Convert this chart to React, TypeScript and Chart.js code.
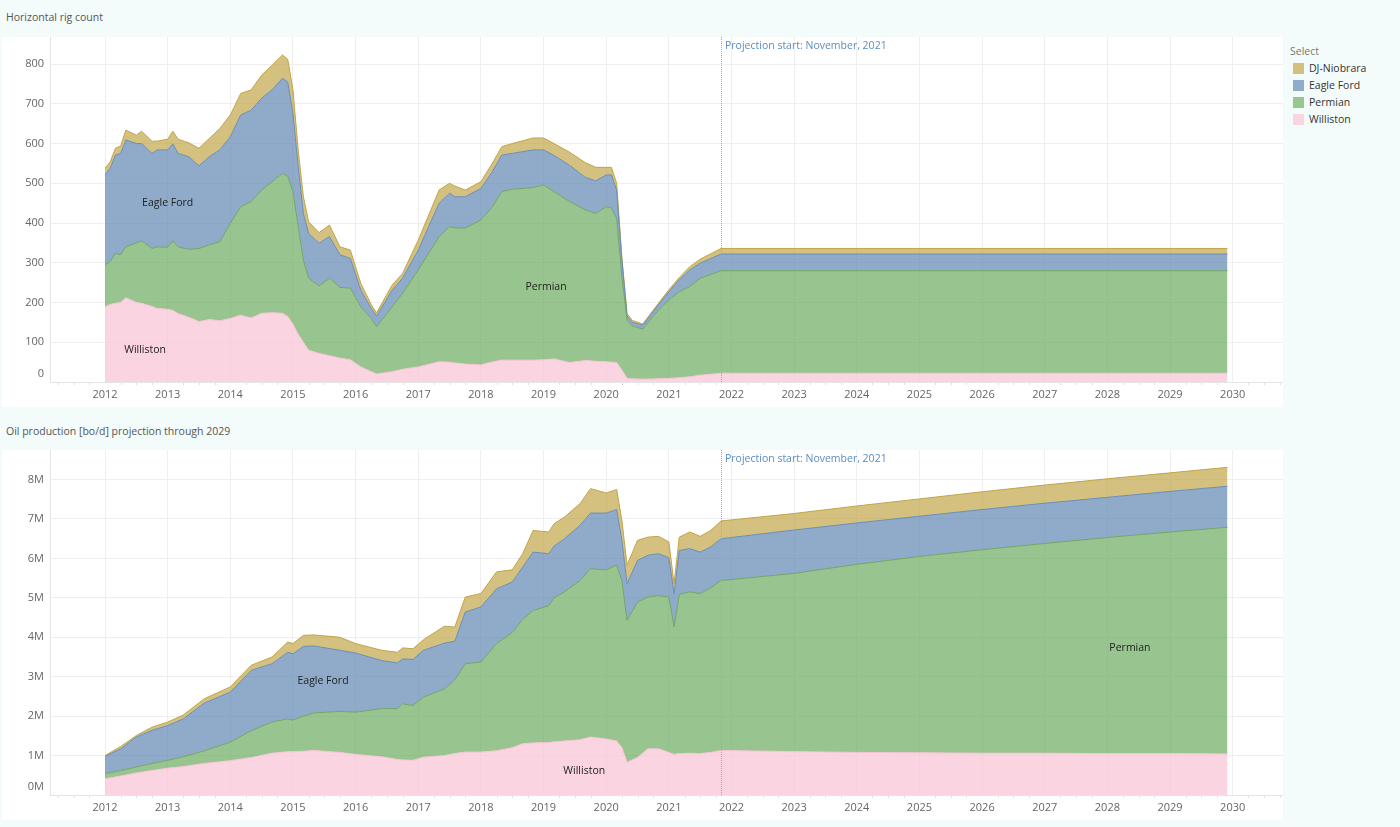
import React, { useEffect, useRef } from "react";
import { Chart, registerables } from "chart.js";

Chart.register(...registerables);

const FONT = "'Open Sans', 'DejaVu Sans', sans-serif";

// ---------- Horizontal rig count ----------
const rigDates = [
  "2012-01", "2012-02", "2012-03", "2012-04", "2012-05", "2012-07", "2012-08", "2012-10", "2012-11",
  "2013-01", "2013-02", "2013-03", "2013-05", "2013-07", "2013-09", "2013-11",
  "2014-01", "2014-03", "2014-05", "2014-07", "2014-09", "2014-11", "2014-12",
  "2015-01", "2015-02", "2015-03", "2015-04", "2015-06", "2015-08", "2015-10", "2015-12",
  "2016-02", "2016-04", "2016-05", "2016-08", "2016-10",
  "2017-01", "2017-05", "2017-07", "2017-08", "2017-10",
  "2018-01", "2018-03", "2018-05", "2018-07", "2018-11",
  "2019-01", "2019-03", "2019-06", "2019-09", "2019-11",
  "2020-01", "2020-02", "2020-03", "2020-04", "2020-05", "2020-06", "2020-08", "2020-11",
  "2021-01", "2021-03", "2021-05", "2021-07", "2021-11",
  "2029-12",
];
const rigWilliston = [
  189, 195, 198, 200, 212, 200, 198, 190, 185,
  183, 180, 172, 163, 152, 157, 154,
  160, 168, 161, 173, 174, 173, 165,
  145, 120, 100, 80, 72, 66, 60, 56,
  38, 26, 20, 26, 32,
  38, 51, 50, 48, 45,
  43, 50, 55, 55, 55,
  56, 58, 49, 54, 52,
  51, 50, 49, 30, 9, 8, 7, 8,
  9, 11, 13, 17, 22,
  22,
];
const rigPermian = [
  105, 108, 126, 120, 128, 150, 157, 146, 155,
  156, 175, 168, 171, 184, 188, 199,
  239, 273, 293, 310, 330, 352, 353,
  334, 271, 207, 181, 170, 195, 178, 180,
  151, 134, 119, 163, 191,
  244, 315, 341, 340, 342,
  365, 387, 424, 430, 434,
  440, 421, 405, 379, 372,
  390, 388, 363, 235, 146, 133, 126, 173,
  197, 216, 227, 244, 258,
  258,
];
const rigEagleFord = [
  227, 235, 247, 255, 269, 250, 245, 239, 244,
  245, 244, 235, 233, 208, 222, 231,
  218, 231, 230, 231, 231, 239, 237,
  197, 151, 117, 113, 107, 105, 82, 75,
  42, 25, 27, 42, 38,
  50, 84, 84, 78, 79,
  79, 88, 92, 90, 95,
  88, 91, 91, 82, 82,
  80, 83, 71, 42, 11, 9, 10, 13,
  21, 30, 42, 38, 42,
  42,
];
const rigDJNiobrara = [
  17, 16, 17, 19, 25, 21, 31, 31, 22,
  27, 32, 36, 35, 44, 46, 54,
  55, 54, 51, 58, 62, 59, 57,
  59, 42, 42, 29, 27, 29, 20, 21,
  17, 10, 8, 13, 12,
  25, 33, 25, 27, 17,
  17, 21, 21, 25, 30,
  30, 30, 33, 37, 34,
  19, 19, 17, 8, 6, 5, 3, 4,
  5, 6, 8, 10, 14,
  14,
];

// ---------- Oil production [million bo/d] ----------
const prodDates = [
  "2012-01", "2012-04", "2012-07", "2012-10",
  "2013-01", "2013-04", "2013-08",
  "2014-01", "2014-05", "2014-09", "2014-12",
  "2015-01", "2015-03", "2015-05", "2015-10",
  "2016-01", "2016-06", "2016-09", "2016-10", "2016-12",
  "2017-02", "2017-06", "2017-08", "2017-10",
  "2018-01", "2018-04", "2018-07", "2018-09", "2018-11",
  "2019-02", "2019-03", "2019-05", "2019-08", "2019-10",
  "2020-01", "2020-03", "2020-04", "2020-05", "2020-07", "2020-09", "2020-11",
  "2021-01", "2021-02", "2021-03", "2021-05", "2021-07", "2021-09", "2021-11",
  "2023-01", "2024-01", "2025-01", "2026-01", "2027-01", "2028-01", "2029-01", "2029-12",
];
const prodWilliston = [
  0.41, 0.48, 0.56, 0.62,
  0.68, 0.72, 0.8,
  0.87, 0.95, 1.06, 1.1,
  1.1, 1.11, 1.13, 1.08,
  1.03, 0.97, 0.9, 0.89, 0.88,
  0.96, 1.0, 1.05, 1.09,
  1.09, 1.12, 1.2, 1.3, 1.32,
  1.33, 1.35, 1.37, 1.4, 1.47,
  1.42, 1.37, 1.2, 0.83, 0.95, 1.17, 1.17,
  1.08, 1.03, 1.05, 1.06, 1.05, 1.08, 1.13,
  1.1, 1.08, 1.07, 1.06, 1.06, 1.05, 1.05, 1.04,
];
const prodPermian = [
  0.13, 0.14, 0.15, 0.18,
  0.2, 0.25, 0.32,
  0.47, 0.68, 0.79, 0.83,
  0.8, 0.89, 0.95, 1.04,
  1.07, 1.22, 1.29, 1.42, 1.39,
  1.52, 1.69, 1.87, 2.24,
  2.28, 2.72, 2.92, 3.15, 3.36,
  3.47, 3.65, 3.78, 4.04, 4.27,
  4.29, 4.46, 4.24, 3.6, 3.94, 3.85, 3.89,
  3.94, 3.23, 4.04, 4.09, 4.06, 4.17, 4.31,
  4.52, 4.77, 4.98, 5.16, 5.32, 5.48, 5.62, 5.75,
];
const prodEagleFord = [
  0.44, 0.55, 0.76, 0.84,
  0.88, 0.96, 1.21,
  1.27, 1.53, 1.48, 1.69,
  1.68, 1.77, 1.7, 1.55,
  1.5, 1.22, 1.16, 1.14, 1.17,
  1.19, 1.16, 0.98, 1.31,
  1.4, 1.39, 1.28, 1.33, 1.48,
  1.32, 1.31, 1.35, 1.4, 1.41,
  1.44, 1.41, 1.02, 0.93, 1.06, 1.06, 1.06,
  1.0, 0.84, 1.11, 1.1, 1.05, 1.04, 1.06,
  1.1, 1.05, 1.02, 1.02, 1.02, 1.02, 1.03, 1.04,
];
const prodDJNiobrara = [
  0.02, 0.06, 0.04, 0.08,
  0.09, 0.1, 0.11,
  0.13, 0.13, 0.17, 0.26,
  0.26, 0.28, 0.28, 0.33,
  0.24, 0.26, 0.27, 0.28, 0.27,
  0.27, 0.43, 0.36, 0.38,
  0.34, 0.43, 0.31, 0.34, 0.55,
  0.55, 0.57, 0.55, 0.55, 0.62,
  0.51, 0.51, 0.51, 0.47, 0.51, 0.46, 0.44,
  0.4, 0.26, 0.34, 0.42, 0.4, 0.42, 0.45,
  0.42, 0.43, 0.44, 0.45, 0.46, 0.47, 0.47, 0.48,
];

const yearTicks = [2012, 2013, 2014, 2015, 2016, 2017, 2018, 2019, 2020, 2021, 2022, 2023, 2024, 2025, 2026, 2027, 2028, 2029, 2030];
const rigTicks = [0, 100, 200, 300, 400, 500, 600, 700, 800];
const prodTicks = [0, 1, 2, 3, 4, 5, 6, 7, 8];
const projectionStart = "2021-11";
const projectionText = "Projection start: November, 2021";
const legendTitle = "Select";
const legendNames = ["DJ-Niobrara", "Eagle Ford", "Permian", "Williston"];
const rigTitle = "Horizontal rig count";
const prodTitle = "Oil production [bo/d] projection through 2029";

const rigMarks = [
  { text: "Eagle Ford", x: 2013.0, y: 450 },
  { text: "Williston", x: 2012.64, y: 80 },
  { text: "Permian", x: 2019.04, y: 239 },
];
const prodMarks = [
  { text: "Eagle Ford", x: 2015.48, y: 2.88 },
  { text: "Williston", x: 2019.65, y: 0.62 },
  { text: "Permian", x: 2028.36, y: 3.72 },
];

// ---------- styles ----------
const BG = "#f3fcfb";
const GRID = "#efefef";
const AXIS = "#e4e4e4";
const X_MIN = 2011.122;
const X_MAX = 2030.803;

const STYLE: Record<string, { fill: string; line: string; swatch: string }> = {
  Williston: { fill: "rgba(249,196,214,0.72)", line: "#f5c4d4", swatch: "#fbd4e1" },
  Permian: { fill: "rgba(108,172,96,0.7)", line: "#6fa666", swatch: "#98c690" },
  "Eagle Ford": { fill: "rgba(95,135,178,0.7)", line: "#6a8db6", swatch: "#8facc9" },
  "DJ-Niobrara": { fill: "rgba(194,166,74,0.7)", line: "#c2a447", swatch: "#d4c07e" },
};

const toYear = (d: string) => Number(d.slice(0, 4)) + (Number(d.slice(5, 7)) - 1) / 12;

function overlayPlugin(yTicks: number[], yFmt: (v: number) => string, marks: { text: string; x: number; y: number }[]) {
  return {
    id: "overlay",
    afterDatasetsDraw(chart: any) {
      const { ctx, chartArea, scales } = chart;
      const xs = scales.x;
      const ys = scales.y;
      ctx.save();
      ctx.font = `10.5px ${FONT}`;
      ctx.fillStyle = "#222";
      ctx.textAlign = "center";
      ctx.textBaseline = "middle";
      for (const m of marks) {
        ctx.fillText(m.text, xs.getPixelForValue(m.x), ys.getPixelForValue(m.y));
      }
      // dotted projection line, one-pixel dots
      const px = Math.round(xs.getPixelForValue(toYear(projectionStart)));
      ctx.fillStyle = "#7ab2e4";
      for (let y = Math.round(chartArea.top); y < chartArea.bottom; y += 2) {
        ctx.fillRect(px, y, 1, 1);
      }
      ctx.font = `10.5px ${FONT}`;
      ctx.fillStyle = "#5b8cc4";
      ctx.textAlign = "left";
      ctx.fillText(projectionText, px + 4, chartArea.top + 9);
      ctx.restore();
    },
    afterDraw(chart: any) {
      const { ctx, chartArea, scales } = chart;
      const xs = scales.x;
      const ys = scales.y;
      ctx.save();
      ctx.font = `11px ${FONT}`;
      ctx.fillStyle = "#666";
      ctx.textBaseline = "middle";
      ctx.textAlign = "right";
      for (const v of yTicks) {
        let y = ys.getPixelForValue(v);
        if (v === 0) y -= 8;
        ctx.fillText(yFmt(v), chartArea.left - 6, y);
      }
      ctx.textAlign = "center";
      for (const v of yearTicks) {
        ctx.fillText(String(v), xs.getPixelForValue(v), chartArea.bottom + 13);
      }
      ctx.strokeStyle = "#e2e2e2";
      ctx.lineWidth = 1;
      ctx.beginPath();
      for (let k = Math.ceil(X_MIN * 4); k <= Math.floor(X_MAX * 4); k++) {
        if (k % 4 === 0) continue;
        const x = Math.round(xs.getPixelForValue(k / 4)) + 0.5;
        ctx.moveTo(x, chartArea.bottom);
        ctx.lineTo(x, chartArea.bottom + 3);
      }
      ctx.stroke();
      ctx.restore();
    },
  };
}

function buildChart(
  canvas: HTMLCanvasElement,
  dates: string[],
  series: { name: string; values: number[] }[],
  yMax: number,
  yTicks: number[],
  yFmt: (v: number) => string,
  marks: { text: string; x: number; y: number }[]
) {
  const xs = dates.map(toYear);
  const datasets = series.map((s, i) => ({
    label: s.name,
    data: s.values.map((v, j) => ({ x: xs[j], y: v })),
    backgroundColor: STYLE[s.name].fill,
    borderColor: STYLE[s.name].line,
    borderWidth: 1,
    pointRadius: 0,
    tension: 0,
    fill: i === 0 ? "origin" : "-1",
  }));
  return new Chart(canvas, {
    type: "line",
    data: { datasets } as any,
    options: {
      animation: false,
      responsive: false,
      events: [],
      layout: { padding: 0 },
      plugins: { legend: { display: false }, tooltip: { enabled: false }, title: { display: false } },
      scales: {
        x: {
          type: "linear",
          min: X_MIN,
          max: X_MAX,
          ticks: { display: false },
          grid: { color: GRID, drawTicks: false },
          border: { color: AXIS },
          afterBuildTicks: (s: any) => {
            s.ticks = yearTicks.map((v) => ({ value: v }));
          },
          afterFit: (s: any) => {
            s.height = 25;
            s.paddingLeft = 0;
            s.paddingRight = 0;
          },
        },
        y: {
          type: "linear",
          stacked: true,
          min: 0,
          max: yMax,
          ticks: { display: false },
          grid: { color: GRID, drawTicks: false },
          border: { color: AXIS },
          afterBuildTicks: (s: any) => {
            s.ticks = yTicks.map((v) => ({ value: v }));
          },
          afterFit: (s: any) => {
            s.width = 48;
            s.paddingTop = 0;
            s.paddingBottom = 0;
          },
        },
      },
    } as any,
    plugins: [overlayPlugin(yTicks, yFmt, marks)],
  });
}

export default function App() {
  const topRef = useRef<HTMLCanvasElement>(null);
  const botRef = useRef<HTMLCanvasElement>(null);

  useEffect(() => {
    Chart.defaults.font.family = FONT;
    const c1 = buildChart(
      topRef.current!,
      rigDates,
      [
        { name: "Williston", values: rigWilliston },
        { name: "Permian", values: rigPermian },
        { name: "Eagle Ford", values: rigEagleFord },
        { name: "DJ-Niobrara", values: rigDJNiobrara },
      ],
      868,
      rigTicks,
      (v) => String(v),
      rigMarks
    );
    const c2 = buildChart(
      botRef.current!,
      prodDates,
      [
        { name: "Williston", values: prodWilliston },
        { name: "Permian", values: prodPermian },
        { name: "Eagle Ford", values: prodEagleFord },
        { name: "DJ-Niobrara", values: prodDJNiobrara },
      ],
      8.75,
      prodTicks,
      (v) => `${v}M`,
      prodMarks
    );
    return () => {
      c1.destroy();
      c2.destroy();
    };
  }, []);

  const titleStyle: React.CSSProperties = {
    position: "absolute",
    left: 6,
    fontSize: 10.5,
    lineHeight: "14px",
    color: "#555",
    whiteSpace: "nowrap",
  };

  return (
    <div
      style={{
        position: "absolute",
        left: 0,
        top: 0,
        width: 1400,
        height: 827,
        background: BG,
        overflow: "hidden",
        fontFamily: FONT,
      }}
    >
      <div style={{ ...titleStyle, top: 10 }}>{rigTitle}</div>
      <div style={{ position: "absolute", left: 2, top: 37, width: 1281, height: 370, background: "#fff" }}>
        <canvas ref={topRef} width={1281} height={370} style={{ display: "block" }} />
      </div>

      <div style={{ position: "absolute", left: 1290, top: 44, fontSize: 10.5, lineHeight: "14px", color: "#777" }}>
        {legendTitle}
      </div>
      {legendNames.map((n, i) => (
        <div key={n} style={{ position: "absolute", left: 1293, top: 61 + i * 17, height: 14, display: "flex", alignItems: "center" }}>
          <div style={{ width: 11, height: 11, background: STYLE[n].swatch, boxSizing: "border-box" }} />
          <div style={{ marginLeft: 5, fontSize: 10.5, lineHeight: "14px", color: "#333", whiteSpace: "nowrap" }}>{n}</div>
        </div>
      ))}

      <div style={{ ...titleStyle, top: 424 }}>{prodTitle}</div>
      <div style={{ position: "absolute", left: 2, top: 450, width: 1281, height: 370, background: "#fff" }}>
        <canvas ref={botRef} width={1281} height={370} style={{ display: "block" }} />
      </div>
    </div>
  );
}
